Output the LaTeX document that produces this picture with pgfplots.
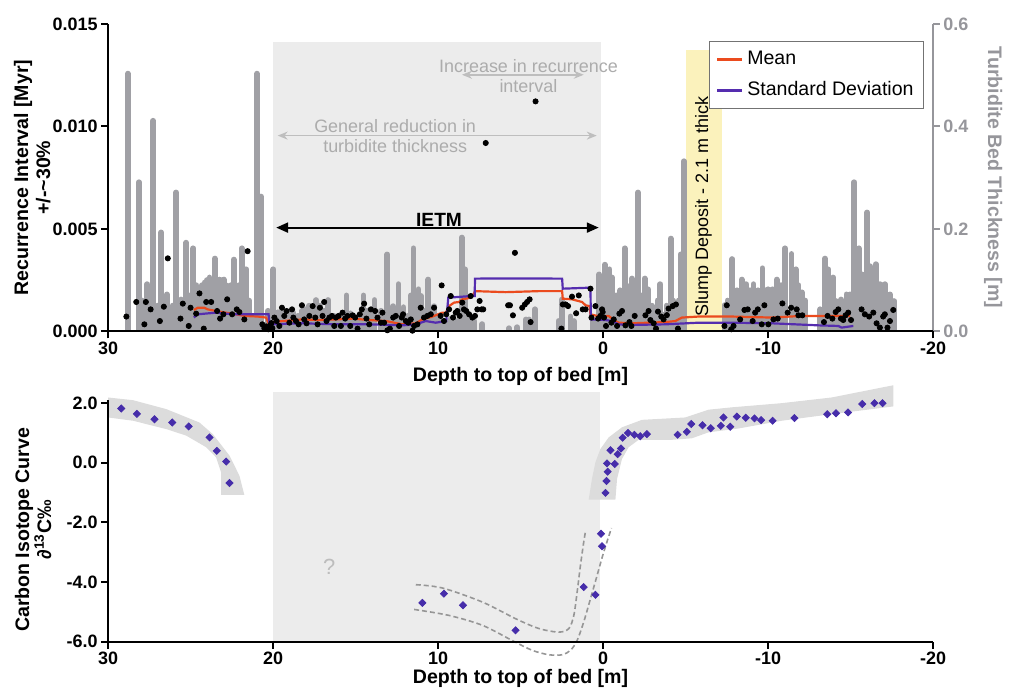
\documentclass[border=0pt]{standalone}
\usepackage{fontspec}
\setmainfont{Liberation Sans}
\usepackage{pgfplots}
\pgfplotsset{compat=1.18}
\usetikzlibrary{arrows.meta}
\definecolor{bargray}{RGB}{160,160,165}
\definecolor{shade}{RGB}{236,236,236}
\definecolor{slump}{RGB}{251,242,188}
\definecolor{meanc}{RGB}{235,75,30}
\definecolor{sdc}{RGB}{85,45,175}
\definecolor{diam}{RGB}{70,45,170}
\definecolor{annot}{RGB}{172,172,172}
\definecolor{annotline}{RGB}{190,190,190}
\definecolor{rightax}{RGB}{150,150,155}
\definecolor{band}{RGB}{220,220,220}
\definecolor{dashc}{RGB}{150,150,150}
\pgfplotsset{
  panel/.style={
    scale only axis, width=413.35pt, x dir=reverse, xmin=-20, xmax=30,
    tick align=outside, major tick length=3.5pt,
    tick label style={font=\bfseries\fontsize{9}{10}\selectfont, inner sep=1.5pt},
    label style={font=\bfseries\fontsize{9.8}{11}\selectfont},
    scaled ticks=false,
  },
}
\begin{document}
\begin{tikzpicture}
\path (0,0) rectangle (504.5pt,346pt);
% ---------------- top panel, right axis (bed thickness) ----------------
\begin{axis}[panel, height=154pt, at={(54.15pt,180pt)}, anchor=south west,
  ymin=0, ymax=0.6, axis y line*=right, axis x line=none,
  ytick={0,0.2,0.4,0.6}, yticklabels={0.0,0.2,0.4,0.6},
  y axis line style={rightax, line width=1pt},
  ytick style={rightax, line width=1pt},
  yticklabel style={text=rightax},
  ylabel={Turbidite Bed Thickness [m]},
  ylabel style={text=rightax, rotate=180, at={(axis description cs:1.073,0.5)}, anchor=center}]
\addplot[draw=none, fill=shade] coordinates {(20,0) (20,0.565) (0.15,0.565) (0.15,0)} -- cycle;
\addplot[draw=none, fill=slump] coordinates {(-5.05,0) (-5.05,0.549) (-7.19,0.549) (-7.19,0)} -- cycle;
\addplot[ycomb, bargray, line width=2.9pt, line cap=round] table {
28.80 0.503
28.13 0.291
27.95 0.06
27.80 0.05
27.62 0.092
27.26 0.411
27.00 0.05
26.78 0.193
26.60 0.06
26.44 0.072
26.10 0.05
25.87 0.271
25.57 0.062
25.40 0.06
25.26 0.173
25.05 0.07
24.84 0.162
24.65 0.09
24.46 0.082
24.30 0.09
24.16 0.095
24.00 0.10
23.85 0.105
23.70 0.10
23.53 0.142
23.38 0.10
23.25 0.101
23.10 0.10
22.99 0.101
22.85 0.09
22.70 0.082
22.55 0.09
22.38 0.140
22.18 0.082
22.05 0.09
21.90 0.162
21.75 0.10
21.62 0.121
21.45 0.06
21.30 0.03
20.97 0.503
20.73 0.263
20.30 0.04
19.98 0.121
19.70 0.037
19.40 0.037
19.10 0.035
18.80 0.037
18.50 0.03
18.25 0.04
18.05 0.043
17.80 0.05
17.60 0.045
17.40 0.061
17.14 0.05
16.90 0.04
16.65 0.061
16.30 0.03
16.00 0.025
15.75 0.03
15.55 0.070
15.30 0.035
15.10 0.03
14.80 0.03
14.52 0.070
14.30 0.04
14.05 0.035
13.85 0.061
13.45 0.04
13.07 0.150
12.72 0.049
12.40 0.092
12.10 0.047
11.85 0.03
11.65 0.070
11.49 0.162
11.19 0.082
11.05 0.069
10.80 0.04
10.59 0.101
10.24 0.049
9.95 0.03
9.60 0.02
9.20 0.025
8.85 0.02
8.57 0.183
8.37 0.121
8.10 0.03
7.80 0.02
7.32 0.014
5.70 0.006
5.20 0.008
4.69 0.023
4.50 0.023
4.13 0.043
2.70 0.02
2.48 0.062
1.97 0.029
1.77 0.02
0.60 0.02
0.23 0.111
-0.10 0.130
-0.39 0.121
-0.54 0.105
-0.80 0.07
-1.05 0.08
-1.31 0.162
-1.55 0.088
-1.75 0.103
-1.95 0.07
-2.12 0.271
-2.32 0.07
-2.52 0.103
-2.72 0.082
-2.95 0.05
-3.13 0.033
-3.30 0.06
-3.47 0.092
-3.61 0.033
-3.85 0.05
-4.10 0.181
-4.25 0.06
-4.42 0.049
-4.58 0.06
-4.70 0.150
-4.90 0.332
-7.36 0.051
-7.55 0.06
-7.83 0.141
-8.10 0.08
-8.41 0.101
-8.68 0.092
-8.90 0.08
-9.12 0.092
-9.38 0.08
-9.66 0.123
-9.85 0.08
-10.02 0.082
-10.27 0.082
-10.53 0.101
-10.80 0.09
-11.03 0.162
-11.42 0.151
-11.68 0.121
-11.85 0.09
-12.04 0.076
-12.26 0.06
-13.17 0.043
-13.45 0.142
-13.65 0.121
-13.96 0.105
-14.14 0.059
-14.44 0.062
-14.75 0.072
-14.99 0.072
-15.23 0.291
-15.50 0.162
-15.71 0.111
-16.01 0.232
-16.19 0.127
-16.35 0.10
-16.53 0.131
-16.80 0.092
-17.08 0.092
-17.39 0.072
-17.65 0.059
};
\end{axis}
% ---------------- top panel, left axis (recurrence interval) ----------------
\begin{axis}[panel, height=154pt, at={(54.15pt,180pt)}, anchor=south west,
  ymin=0, ymax=0.015, axis y line*=left, axis x line*=bottom,
  xtick={30,20,10,0,-10,-20}, xticklabels={30,20,10,0,-10,-20},
  ytick={0,0.005,0.01,0.015}, yticklabels={0.000,0.005,0.010,0.015},
  axis line style={line width=1pt}, tick style={line width=1pt, black},
  xlabel={Depth to top of bed [m]},
  xlabel style={at={(axis description cs:0.5,0)}, anchor=center, yshift=-22.5pt},
  ylabel={Recurrence Interval [Myr]\\+/-\textasciitilde 30\%},
  ylabel style={align=center, at={(axis description cs:-0.092,0.5)}, anchor=center},
  legend style={at={(0.729,0.945)}, anchor=north west, draw=black!55, line width=0.5pt,
    fill=white, font=\fontsize{9.8}{11}\selectfont, inner xsep=3pt, inner ysep=3pt,
    row sep=3pt, legend cell align=left},
  legend image code/.code={\draw[#1, line width=1.2pt] (0pt,0pt) -- (12.5pt,0pt);}]
% annotations
\draw[annotline, line width=0.8pt, {Stealth[length=5pt,width=4pt]}-{Stealth[length=5pt,width=4pt]}] (axis cs:19.72,0.00955) -- (axis cs:0.38,0.00955);
\node[text=annot, align=center, font=\fontsize{9}{10}\selectfont] at (axis cs:12.6,0.00955) {General reduction in\\turbidite thickness};
\draw[annotline, line width=0.8pt, {Stealth[length=5pt,width=4pt]}-{Stealth[length=5pt,width=4pt]}] (axis cs:8.55,0.01252) -- (axis cs:1.17,0.01252);
\node[text=annot, align=center, font=\fontsize{9}{10}\selectfont] at (axis cs:4.52,0.01244) {Increase in recurrence\\interval};
\draw[black, line width=1.1pt, {Triangle[length=6pt,width=5pt]}-{Triangle[length=6pt,width=5pt]}] (axis cs:19.81,0.00506) -- (axis cs:0.26,0.00506);
\node[anchor=south, inner sep=0.3pt, font=\bfseries\fontsize{9.6}{10}\selectfont] at (axis cs:9.94,0.00506) {IETM};
\node[rotate=90, font=\fontsize{9}{10}\selectfont] at (axis cs:-6.09,0.00609) {Slump Deposit - 2.1 m thick};
\addplot[only marks, mark=*, mark size=1.3pt, black, forget plot] table {
28.89 0.00072
28.29 0.00143
27.80 0.00034
27.71 0.00143
27.42 0.00107
26.86 0.00050
26.62 0.00120
26.38 0.00356
25.61 0.00062
25.47 0.00135
25.11 0.00026
25.00 0.00115
24.66 0.00086
24.46 0.00185
24.20 0.00013
24.05 0.00143
23.75 0.00143
23.39 0.00099
23.21 0.00062
23.01 0.00083
22.78 0.00156
22.48 0.00083
22.20 0.00107
22.04 0.00094
21.74 0.00058
21.54 0.00391
20.65 0.00034
20.53 0.00015
20.41 0.00024
20.29 0.00010
20.16 0.00029
20.10 0.00040
20.04 0.00015
19.92 0.00067
19.78 0.00050
19.62 0.00026
19.46 0.00115
19.32 0.00075
19.18 0.00099
19.01 0.00042
18.85 0.00107
18.77 0.00067
18.61 0.00050
18.45 0.00034
18.25 0.00127
18.11 0.00058
17.97 0.00039
17.80 0.00075
17.60 0.00123
17.44 0.00067
17.30 0.00034
17.16 0.00115
17.00 0.00075
16.90 0.00143
16.76 0.00050
16.59 0.00067
16.43 0.00075
16.29 0.00026
16.19 0.00067
16.03 0.00075
15.89 0.00026
15.79 0.00091
15.63 0.00062
15.49 0.00075
15.32 0.00026
15.18 0.00078
15.02 0.00067
14.88 0.00013
14.74 0.00083
14.62 0.00107
14.48 0.00135
14.34 0.00062
14.17 0.00034
14.07 0.00107
13.81 0.00099
13.67 0.00067
13.47 0.00042
13.37 0.00091
13.27 0.00042
13.07 0.00005
12.92 0.00013
12.72 0.00067
12.56 0.00075
12.36 0.00026
12.20 0.00067
12.12 0.00083
11.95 0.00050
11.80 0.00042
11.65 0.00058
11.55 0.00003
11.45 0.00026
11.25 0.00034
11.05 0.00115
10.85 0.00067
10.65 0.00075
10.44 0.00083
10.24 0.00115
9.78 0.00224
9.84 0.00075
9.64 0.00050
9.50 0.00083
9.33 0.00107
9.23 0.00172
9.09 0.00067
8.93 0.00091
8.83 0.00099
8.69 0.00075
8.53 0.00140
8.43 0.00107
8.29 0.00099
8.12 0.00083
8.02 0.00172
7.92 0.00067
7.76 0.00075
7.62 0.00107
7.48 0.00148
7.36 0.00107
7.26 0.00107
7.11 0.00919
5.75 0.00127
5.64 0.00127
5.46 0.00078
5.34 0.00383
4.90 0.00115
4.74 0.00131
4.60 0.00143
4.45 0.00156
4.39 0.00045
4.09 0.01122
2.52 0.00013
2.44 0.00131
2.27 0.00131
2.12 0.00123
1.88 0.00169
1.63 0.00088
1.47 0.00175
1.23 0.00107
1.06 0.00107
0.76 0.00208
0.70 0.00067
0.46 0.00123
0.30 0.00062
0.16 0.00075
0.06 0.00107
0.02 0.00094
-0.06 0.00067
-0.18 0.00026
-0.51 0.00042
-0.65 0.00058
-0.85 0.00026
-0.99 0.00086
-1.15 0.00099
-1.36 0.00029
-1.60 0.00045
-1.72 0.00026
-1.92 0.00075
-2.57 0.00078
-2.76 0.00099
-2.87 0.00055
-3.07 0.00039
-3.21 0.00013
-3.33 0.00096
-3.53 0.00072
-3.67 0.00058
-3.87 0.00079
-3.97 0.00111
-4.22 0.00123
-4.42 0.00131
-4.54 0.00013
-7.36 0.00026
-7.50 0.00127
-7.77 0.00010
-7.91 0.00026
-8.31 0.00058
-8.57 0.00104
-8.77 0.00107
-9.07 0.00050
-9.22 0.00091
-9.38 0.00107
-9.62 0.00034
-9.78 0.00127
-10.02 0.00034
-10.33 0.00058
-10.59 0.00062
-10.87 0.00136
-11.19 0.00091
-11.40 0.00115
-11.74 0.00107
-11.84 0.00078
-12.08 0.00078
-13.39 0.00045
-13.61 0.00075
-13.90 0.00062
-14.10 0.00094
-14.26 0.00107
-14.42 0.00062
-14.56 0.00055
-14.70 0.00078
-14.86 0.00091
-15.03 0.00055
-15.67 0.00107
-15.87 0.00083
-16.13 0.00072
-16.38 0.00091
-16.58 0.00039
-16.78 0.00018
-16.98 0.00072
-17.08 0.00083
-17.24 0.00018
-17.39 0.00050
-17.59 0.00104
};
\addplot[meanc, line width=1.1pt] table {
24.80 0.00104
24.56 0.00115
24.16 0.00115
23.97 0.00107
23.45 0.00099
22.64 0.00088
22.24 0.00083
21.74 0.00075
20.93 0.00072
20.42 0.00067
20.27 0.00039
20.02 0.00045
19.42 0.00050
18.21 0.00058
17.20 0.00055
16.19 0.00058
15.18 0.00062
14.17 0.00055
13.16 0.00050
12.16 0.00034
11.35 0.00039
10.95 0.00058
10.34 0.00072
9.74 0.00091
9.53 0.00091
9.33 0.00123
9.03 0.00140
8.73 0.00143
8.53 0.00156
8.02 0.00164
7.82 0.00185
7.76 0.00196
5.90 0.00191
3.89 0.00196
2.48 0.00196
2.44 0.00159
1.88 0.00156
1.27 0.00143
1.06 0.00127
0.82 0.00123
0.76 0.00083
0.36 0.00075
0.06 0.00072
-0.34 0.00075
-0.75 0.00050
-0.95 0.00042
-1.75 0.00039
-2.76 0.00042
-3.77 0.00045
-4.38 0.00050
-4.78 0.00067
-5.79 0.00072
-7.80 0.00072
-10.22 0.00067
-12.04 0.00075
-14.06 0.00075
-14.97 0.00075
};
\addlegendentry{Mean}
\addplot[sdc, line width=1.1pt] table {
24.80 0.00067
24.56 0.00083
23.45 0.00091
22.44 0.00083
20.27 0.00083
20.22 0.00034
18.21 0.00039
16.19 0.00034
14.17 0.00034
12.16 0.00029
11.35 0.00034
10.74 0.00050
10.14 0.00042
9.50 0.00050
9.38 0.00164
8.02 0.00172
7.78 0.00172
7.76 0.00257
5.90 0.00258
2.48 0.00257
2.44 0.00208
0.76 0.00213
0.74 0.00058
-0.15 0.00055
-0.54 0.00050
-0.95 0.00034
-1.75 0.00031
-3.77 0.00034
-5.79 0.00042
-7.80 0.00042
-10.22 0.00039
-13.05 0.00029
-14.26 0.00026
-14.46 0.00018
-15.17 0.00026
};
\addlegendentry{Standard Deviation}
\end{axis}
% ---------------- bottom panel (carbon isotope) ----------------
\begin{axis}[panel, height=121pt, at={(54.15pt,24.5pt)}, anchor=south west,
  ymin=-6, ymax=2.1, clip=false, axis on top,
  axis y line*=left, axis x line*=bottom,
  xtick={30,20,10,0,-10,-20}, xticklabels={30,20,10,0,-10,-20},
  ytick={-6,-4,-2,0,2}, yticklabels={-6.0,-4.0,-2.0,0.0,2.0},
  axis line style={line width=1pt}, tick style={line width=1pt, black},
  xlabel={Depth to top of bed [m]},
  xlabel style={at={(axis description cs:0.5,0)}, anchor=center, yshift=-18.5pt},
  ylabel={Carbon Isotope Curve\\∂\textsuperscript{13}C‰},
  ylabel style={align=center, at={(axis description cs:-0.0907,0.463)}, anchor=center}]
\addplot[draw=none, fill=shade] coordinates {(20,-6) (20,2.37) (0.2,2.37) (0.2,-6)} -- cycle;
\addplot[draw=none, fill=band] coordinates {
(30.0,2.19) (28.49,2.10) (26.47,1.80) (24.46,1.35) (23.65,0.96) (22.64,0.24) (22.04,-0.43) (21.74,-1.08)
(23.15,-1.08) (23.15,-0.32) (23.45,0.18) (24.05,0.52) (25.26,0.91) (26.47,1.13) (28.49,1.41) (30.0,1.52)} -- cycle;
\addplot[draw=none, fill=band] coordinates {
(0.87,-1.24) (0.67,-0.54) (0.46,0.02) (0.16,0.46) (-0.34,0.85) (-1.15,1.19) (-2.36,1.44) (-4.98,1.52)
(-6.39,1.78) (-7.80,1.86) (-10.83,2.00) (-13.85,2.19) (-17.59,2.60) (-17.59,1.89) (-13.85,1.63)
(-10.83,1.41) (-8.21,1.15) (-6.39,1.02) (-5.38,0.82) (-4.17,0.77) (-2.16,0.77) (-1.55,0.52)
(-1.15,0.13) (-0.85,-0.54) (-0.75,-1.24)} -- cycle;
\addplot[dashc, line width=0.8pt, dash pattern=on 2.5pt off 1.5pt, smooth] coordinates {
(11.35,-4.09) (9.74,-4.20) (7.32,-4.67) (5.30,-5.23) (3.89,-5.56) (2.68,-5.68) (2.07,-5.56) (1.77,-5.12)
(1.57,-4.34) (1.37,-3.45) (1.17,-2.66) (1.06,-2.29)};
\addplot[dashc, line width=0.8pt, dash pattern=on 2.5pt off 1.5pt, smooth] coordinates {
(11.45,-4.92) (9.34,-5.12) (7.32,-5.45) (5.51,-5.96) (4.30,-6.29) (3.28,-6.44) (2.48,-6.44) (1.97,-6.29)
(1.57,-5.96) (1.17,-5.34) (0.76,-4.56) (0.36,-3.78) (-0.04,-3.00) (-0.51,-2.19)};
\node[text=annot!80, font=\fontsize{11}{12}\selectfont] at (axis cs:16.6,-3.49) {?};
\addplot[only marks, mark=square*, mark size=1.25pt, mark options={rotate=45}, diam] table {
29.20 1.82
28.25 1.64
27.18 1.46
26.11 1.35
25.11 1.22
23.85 0.85
23.41 0.40
22.84 0.04
22.64 -0.68
10.95 -4.70
9.64 -4.39
8.49 -4.78
5.30 -5.62
1.17 -4.17
0.46 -4.43
0.12 -2.38
0.06 -2.80
-0.15 -1.01
-0.21 -0.61
-0.28 -0.30
-0.24 -0.02
-0.71 -0.04
-0.45 0.42
-0.89 0.29
-1.09 0.48
-1.19 0.84
-1.51 1.00
-1.90 0.94
-2.26 0.89
-2.66 0.96
-4.52 0.94
-5.08 1.04
-5.35 1.30
-6.03 1.26
-6.53 1.16
-7.14 1.24
-7.30 1.52
-7.71 1.21
-8.11 1.55
-8.65 1.51
-9.18 1.49
-9.58 1.43
-10.28 1.41
-11.60 1.50
-13.59 1.63
-14.12 1.66
-14.85 1.69
-15.71 1.97
-16.45 2.00
-16.94 2.00
};
\end{axis}
\end{tikzpicture}
\end{document}
